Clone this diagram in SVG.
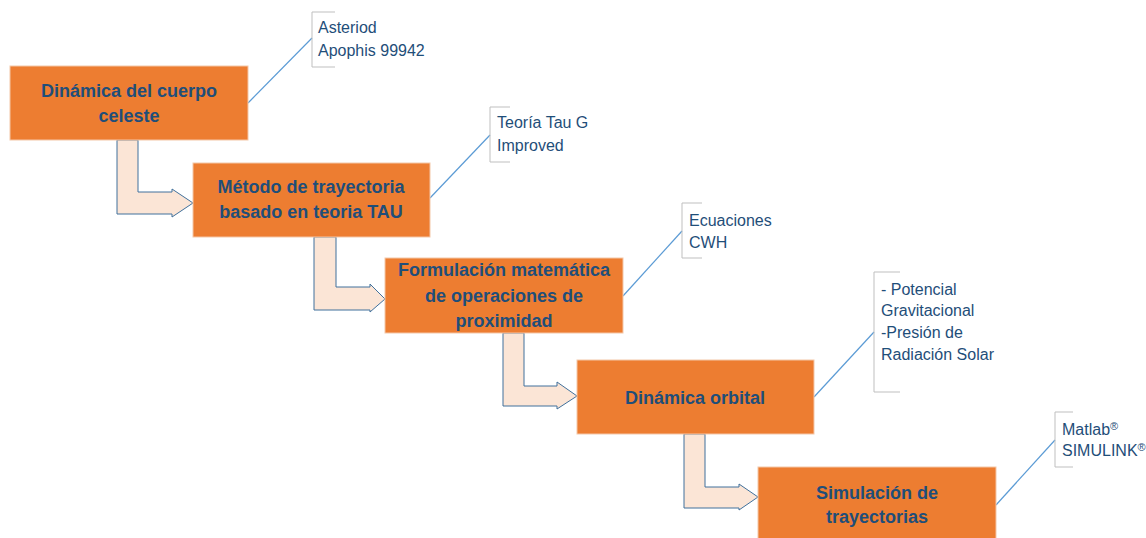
<svg xmlns="http://www.w3.org/2000/svg" width="1146" height="538" viewBox="0 0 1146 538">
<style>
.box{fill:#ED7D31;stroke:#F4C7A8;stroke-width:1}
.bt{font-family:"Liberation Sans",Arial,sans-serif;font-weight:bold;font-size:18px;fill:#1F4E79;text-anchor:middle}
.ct{font-family:"Liberation Sans",Arial,sans-serif;font-size:16px;fill:#1F4E79}
.sup{font-size:11px}
.arr{fill:#FBE5D6;stroke:#41719C;stroke-width:1}
.lead{stroke:#5B9BD5;stroke-width:1.2;fill:none}
.brk{stroke:#BFBFBF;stroke-width:1;fill:none}
</style>
<rect width="1146" height="538" fill="#ffffff"/>
<g id="connectors">
<polygon class="arr" points="117,140 138,140 138,192 172,192 172,189 193,203 172,217 172,214 117,214"/>
<polygon class="arr" points="314,237 336,237 336,287 370,287 370,284 385,299 370,312 370,310 314,310"/>
<polygon class="arr" points="503,333 524,333 524,386 557,386 557,382 577,396 557,409 557,406 503,406"/>
<polygon class="arr" points="684,434 705,434 705,487 739,487 739,484 758,497 739,510 739,508 684,508"/>
<line class="lead" x1="248" y1="103" x2="312" y2="38"/>
<line class="lead" x1="430" y1="198" x2="490" y2="135"/>
<line class="lead" x1="623" y1="296" x2="682" y2="231"/>
<line class="lead" x1="814" y1="397" x2="874" y2="332"/>
<line class="lead" x1="996" y1="505" x2="1055" y2="440"/>
</g>
<g id="node1">
<rect class="box" x="10" y="66" width="238" height="74"/>
<text class="bt" x="129" y="97">Dinámica del cuerpo</text>
<text class="bt" x="129" y="122">celeste</text>
</g>
<g id="node2">
<rect class="box" x="193" y="163" width="237" height="74"/>
<text class="bt" x="311" y="193">Método de trayectoria</text>
<text class="bt" x="311" y="218">basado en teoria TAU</text>
</g>
<g id="node3">
<rect class="box" x="385" y="258" width="238" height="75"/>
<text class="bt" x="504" y="276">Formulación matemática</text>
<text class="bt" x="504" y="302">de operaciones de</text>
<text class="bt" x="504" y="327">proximidad</text>
</g>
<g id="node4">
<rect class="box" x="577" y="360" width="237" height="74"/>
<text class="bt" x="695" y="404">Dinámica orbital</text>
</g>
<g id="node5">
<rect class="box" x="758" y="467" width="238" height="80"/>
<text class="bt" x="877" y="499">Simulación de</text>
<text class="bt" x="877" y="523">trayectorias</text>
</g>
<g id="note1">
<path class="brk" d="M335,12 H312 V67 H335"/>
<text class="ct" x="318" y="33">Asteriod</text>
<text class="ct" x="318" y="56">Apophis 99942</text>
</g>
<g id="note2">
<path class="brk" d="M510,107 H490 V162 H510"/>
<text class="ct" x="497" y="128">Teoría Tau G</text>
<text class="ct" x="497" y="151">Improved</text>
</g>
<g id="note3">
<path class="brk" d="M702,203 H682 V258 H702"/>
<text class="ct" x="689" y="226">Ecuaciones</text>
<text class="ct" x="689" y="248">CWH</text>
</g>
<g id="note4">
<path class="brk" d="M900,272 H874 V392 H900"/>
<text class="ct" x="881" y="295">- Potencial</text>
<text class="ct" x="881" y="316">Gravitacional</text>
<text class="ct" x="881" y="338">-Presión de</text>
<text class="ct" x="881" y="360">Radiación Solar</text>
</g>
<g id="note5">
<path class="brk" d="M1073,412 H1055 V467 H1073"/>
<text class="ct" x="1062" y="435">Matlab<tspan class="sup" dy="-5">®</tspan></text>
<text class="ct" x="1062" y="456">SIMULINK<tspan class="sup" dy="-5">®</tspan></text>
</g>
</svg>
